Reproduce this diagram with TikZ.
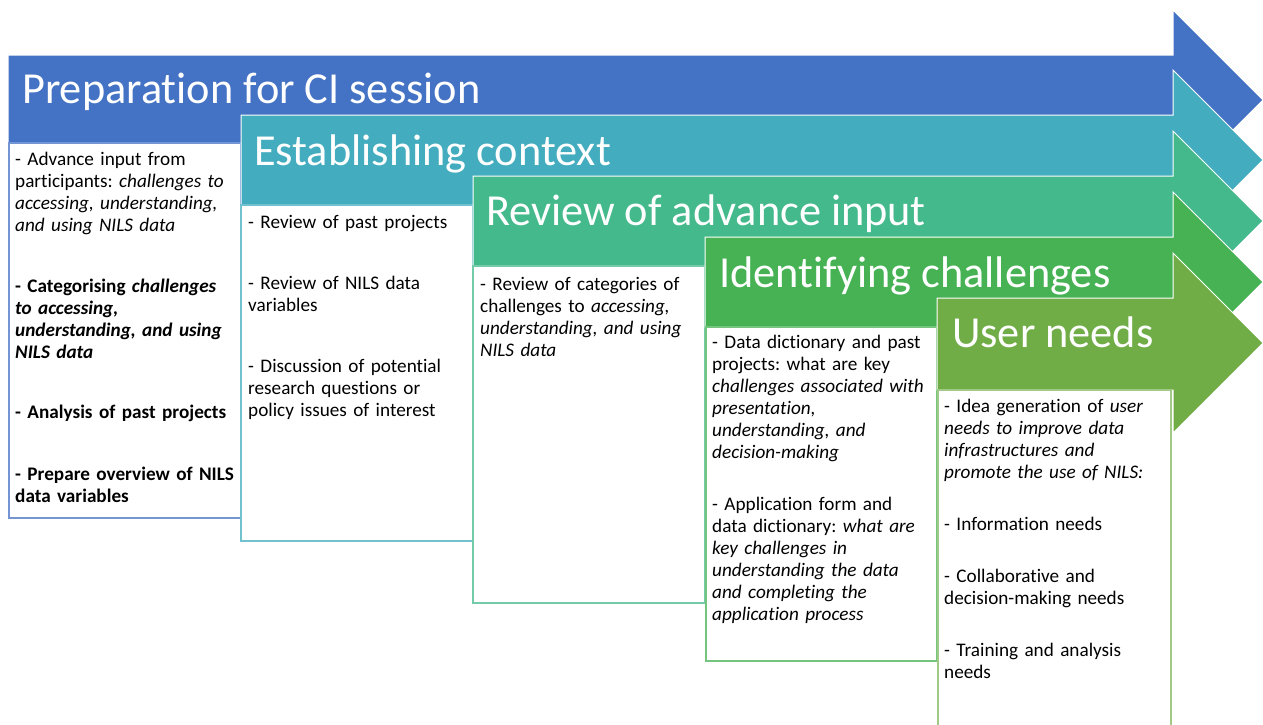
\documentclass[tikz,border=0pt]{standalone}
\usepackage{fontspec}
\setmainfont[Ligatures=NoCommon]{Carlito}
\frenchspacing
\definecolor{cA}{HTML}{4472C4}
\definecolor{cB}{HTML}{43ACBE}
\definecolor{cC}{HTML}{44BA8C}
\definecolor{cD}{HTML}{46B253}
\definecolor{cE}{HTML}{70AD47}
\tikzset{
  stagearrow/.style={draw=white, line width=1pt, line join=miter},
  bodybox/.style={fill=white, line width=1.3pt},
  stagetitle/.style={anchor=base west, inner sep=0pt, text=white, font=\fontsize{44.3}{50}\selectfont},
  bodytext/.style={anchor=base west, inner sep=0pt, text width=280pt, align=left, text=black, font=\frenchspacing\fontsize{19.2}{22}\selectfont},
}
\begin{document}
\begin{tikzpicture}[x=1pt,y=-1pt]
\useasboundingbox (0,0) rectangle (1263,724);
% ---- stage 1
\fill[cA,stagearrow] (8,55) -- (1173,55) -- (1173,10) -- (1263,100) -- (1173,190) -- (1173,143) -- (8,143) -- cycle;
\node[stagetitle] (t1) at (22,103) {Preparation for CI session};
\draw[bodybox, draw=cA!75!white] (9,143) rectangle (241,518);
\node[bodytext] (p1a) at (15,165) {- Advance input from\\participants: \textit{challenges to}\\\textit{accessing, understanding,}\\\textit{and using NILS data}};
\node[bodytext] (p1b) at (15,292) {\textbf{- Categorising \textit{challenges}}\\\textbf{\textit{to accessing,}}\\\textbf{\textit{understanding, and using}}\\\textbf{\textit{NILS data}}};
\node[bodytext] (p1c) at (15,418) {\textbf{- Analysis of past projects}};
\node[bodytext] (p1d) at (15,480) {\textbf{- Prepare overview of NILS}\\\textbf{data variables}};
% ---- stage 2
\fill[cB,stagearrow] (241,115) -- (1173,115) -- (1173,70) -- (1263,160) -- (1173,250) -- (1173,205) -- (241,205) -- cycle;
\node[stagetitle] (t2) at (254,165) {Establishing context};
\draw[bodybox, draw=cB!75!white] (241,205) rectangle (473,541);
\node[bodytext] (p2a) at (248,228) {- Review of past projects};
\node[bodytext] (p2b) at (248,289) {- Review of NILS data\\variables};
\node[bodytext] (p2c) at (248,372) {- Discussion of potential\\research questions or\\policy issues of interest};
% ---- stage 3
\fill[cC,stagearrow] (473,176) -- (1173,176) -- (1173,131) -- (1263,221) -- (1173,311) -- (1173,266) -- (473,266) -- cycle;
\node[stagetitle] (t3) at (486,225) {Review of advance input};
\draw[bodybox, draw=cC!75!white] (473,266) rectangle (705,603);
\node[bodytext] (p3a) at (480,290) {- Review of categories of\\challenges to \textit{accessing,}\\\textit{understanding, and using}\\\textit{NILS data}};
% ---- stage 4
\fill[cD,stagearrow] (705,237) -- (1173,237) -- (1173,192) -- (1263,282) -- (1173,372) -- (1173,327) -- (705,327) -- cycle;
\node[stagetitle] (t4) at (719,287) {Identifying challenges};
\draw[bodybox, draw=cD!75!white] (706,327) rectangle (937,661);
\node[bodytext] (p4a) at (712,348) {- Data dictionary and past\\projects: what are key\\\textit{challenges associated with}\\\textit{presentation,}\\\textit{understanding, and}\\\textit{decision-making}};
\node[bodytext] (p4b) at (712,510) {- Application form and\\data dictionary: \textit{what are}\\\textit{key challenges in}\\\textit{understanding the data}\\\textit{and completing the}\\\textit{application process}};
% ---- stage 5
\fill[cE,stagearrow] (937,298) -- (1173,298) -- (1173,253) -- (1263,343) -- (1173,433) -- (1173,390) -- (937,390) -- cycle;
\node[stagetitle] (t5) at (952,347) {User needs};
\draw[bodybox, draw=cE!65!white] (938,390) rectangle (1171,740);
\node[bodytext] (p5a) at (944,412) {- Idea generation of \textit{user}\\\textit{needs to improve data}\\\textit{infrastructures and}\\\textit{promote the use of NILS:}};
\node[bodytext] (p5b) at (944,530) {- Information needs};
\node[bodytext] (p5c) at (944,582) {- Collaborative and\\decision-making needs};
\node[bodytext] (p5d) at (944,656) {- Training and analysis\\needs};
\end{tikzpicture}
\end{document}
